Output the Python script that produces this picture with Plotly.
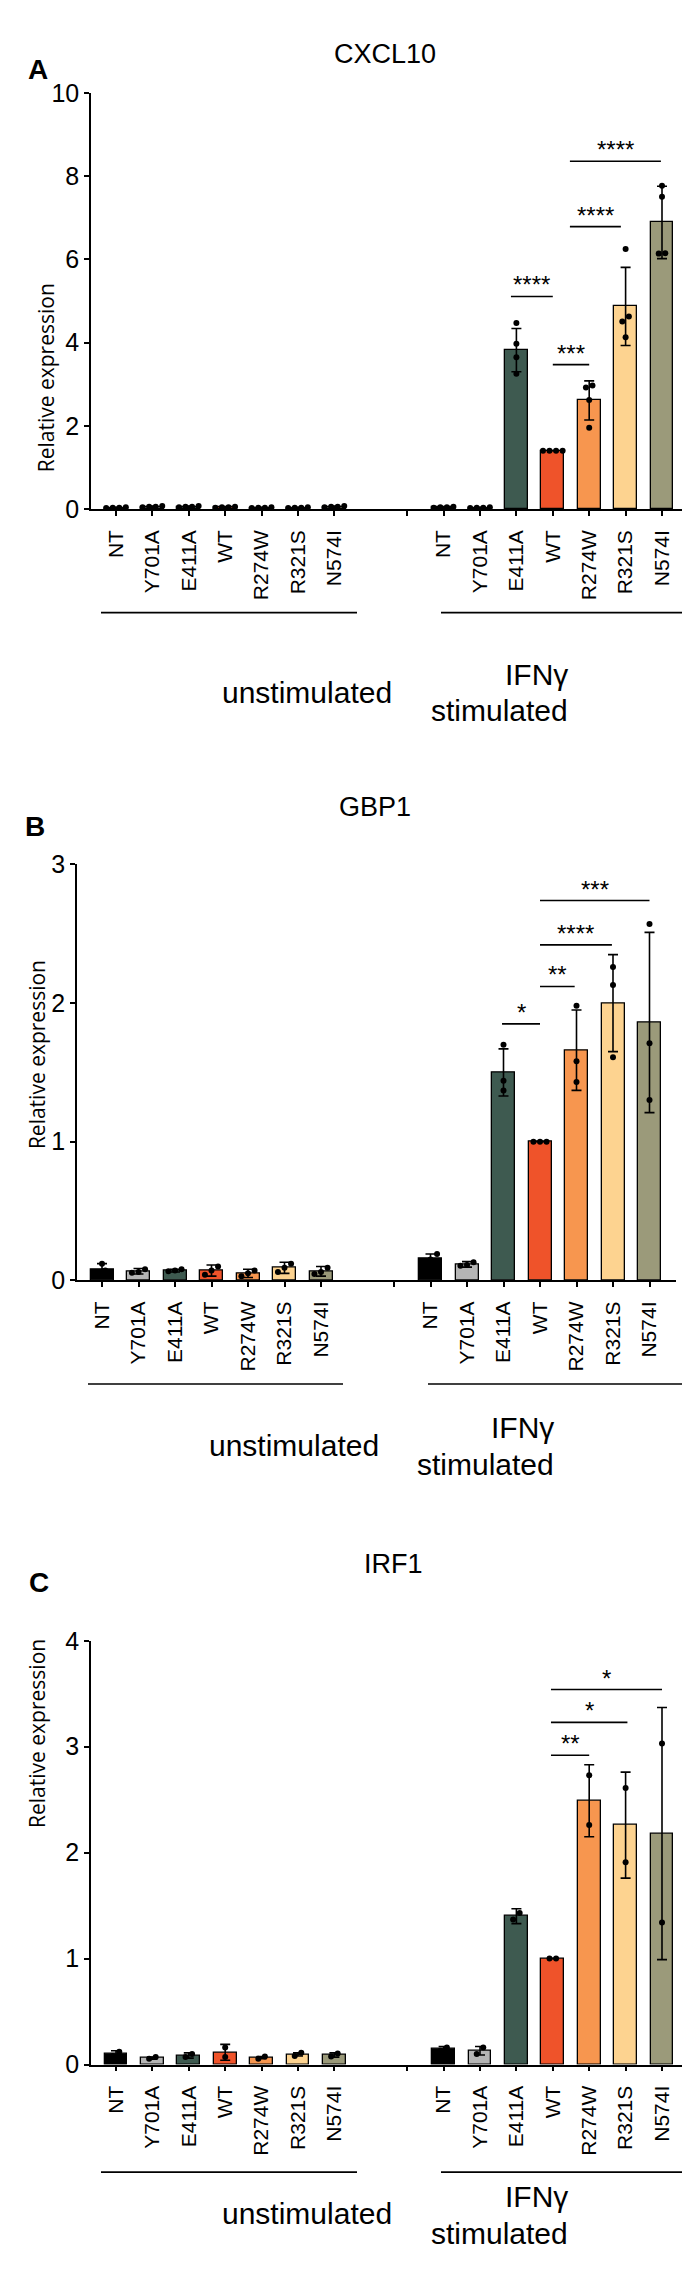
import plotly.graph_objects as go

# ---------------- data ----------------
categories = ["NT", "Y701A", "E411A", "WT", "R274W", "R321S", "N574I"]
bar_colors = ["#000000", "#b5b5b5", "#3e5a50", "#ef532a", "#f7964f", "#fdd390", "#9b9a7a"]
unstim_pos = [0, 1, 2, 3, 4, 5, 6]
stim_pos = [9, 10, 11, 12, 13, 14, 15]
sep_pos = 8

# Panel A - CXCL10
a_unstim_mean = [0.03, 0.05, 0.05, 0.04, 0.03, 0.03, 0.05]
a_unstim_err = [0.01, 0.02, 0.02, 0.01, 0.01, 0.01, 0.02]
a_unstim_pts = [[0.02, 0.03, 0.03, 0.04], [0.04, 0.05, 0.05, 0.07], [0.04, 0.05, 0.05, 0.07],
                [0.03, 0.04, 0.04, 0.05], [0.02, 0.03, 0.03, 0.04], [0.02, 0.03, 0.03, 0.04],
                [0.04, 0.05, 0.05, 0.07]]
a_stim_mean = [0.04, 0.03, 3.82, 1.40, 2.61, 4.87, 6.89]
a_stim_err = [0.01, 0.01, 0.52, 0.0, 0.47, 0.94, 0.87]
a_stim_pts = [[0.03, 0.04, 0.04, 0.05], [0.02, 0.03, 0.03, 0.04], [4.47, 3.97, 3.65, 3.25],
              [1.40, 1.40, 1.40, 1.40], [2.97, 2.92, 2.62, 1.95], [6.25, 4.63, 4.51, 4.13],
              [7.77, 7.51, 6.15, 6.14]]
a_sig = [(10.85, 12.0, 5.11, "****"), (12.0, 13.0, 3.47, "***"),
         (12.47, 13.87, 6.79, "****"), (12.47, 14.97, 8.36, "****")]

# Panel B - GBP1
b_unstim_mean = [0.08, 0.065, 0.07, 0.07, 0.05, 0.09, 0.065]
b_unstim_err = [0.04, 0.02, 0.01, 0.04, 0.03, 0.04, 0.035]
b_unstim_pts = [[0.12, 0.07, 0.05], [0.08, 0.06, 0.055], [0.08, 0.07, 0.065], [0.10, 0.07, 0.04],
                [0.07, 0.05, 0.03], [0.12, 0.09, 0.06], [0.09, 0.06, 0.045]]
b_stim_mean = [0.16, 0.115, 1.50, 1.00, 1.66, 2.00, 1.86]
b_stim_err = [0.03, 0.02, 0.17, 0.0, 0.29, 0.35, 0.65]
b_stim_pts = [[0.19, 0.15, 0.14], [0.13, 0.11, 0.105], [1.70, 1.44, 1.37], [1.0, 1.0, 1.0],
              [1.98, 1.58, 1.43], [2.26, 2.13, 1.61], [2.57, 1.71, 1.30]]
b_sig = [(10.96, 12.0, 1.85, "*"), (12.0, 12.95, 2.12, "**"),
         (12.0, 13.97, 2.42, "****"), (12.0, 15.0, 2.74, "***")]

# Panel C - IRF1
c_unstim_mean = [0.10, 0.06, 0.085, 0.115, 0.065, 0.095, 0.09]
c_unstim_err = [0.03, 0.01, 0.025, 0.075, 0.01, 0.015, 0.02]
c_unstim_pts = [[0.12, 0.08], [0.07, 0.055], [0.10, 0.07], [0.16, 0.07],
                [0.075, 0.055], [0.11, 0.08], [0.105, 0.075]]
c_stim_mean = [0.145, 0.13, 1.40, 1.00, 2.49, 2.26, 2.18]
c_stim_err = [0.025, 0.04, 0.07, 0.0, 0.34, 0.50, 1.19]
c_stim_pts = [[0.16, 0.13], [0.16, 0.10], [1.43, 1.37], [1.0, 1.0],
              [2.73, 2.26], [2.61, 1.91], [3.03, 1.34]]
c_sig = [(11.95, 13.0, 2.92, "**"), (11.95, 14.05, 3.23, "*"), (11.95, 15.0, 3.54, "*")]

y_ticks_a = [0, 2, 4, 6, 8, 10]
y_ticks_b = [0, 1, 2, 3]
y_ticks_c = [0, 1, 2, 3, 4]

# ---------------- layout geometry (pixels) ----------------
W, H = 690, 2272
FONT = "Liberation Sans"
panels = [
    dict(gene="CXCL10", letter="A", ymax=10, yticks=y_ticks_a,
         um=a_unstim_mean, ue=a_unstim_err, up=a_unstim_pts,
         sm=a_stim_mean, se=a_stim_err, sp=a_stim_pts, sig=a_sig,
         left=83, right=681, cat0=108, step=36.4, y0=493, ytop=72,
         title_xy=(377, 15), letter_xy=(18, 30), ytitle_xy=(22, 263),
         gline_y=598, gl_u=(93, 349), gl_s=(433, 690),
         lab_u=(212, 660), lab_ifn=(562, 642), lab_st=(562, 678)),
    dict(gene="GBP1", letter="B", ymax=3, yticks=y_ticks_b,
         um=b_unstim_mean, ue=b_unstim_err, up=b_unstim_pts,
         sm=b_stim_mean, se=b_stim_err, sp=b_stim_pts, sig=b_sig,
         left=69, right=668, cat0=94, step=36.5, y0=1274, ytop=853,
         title_xy=(367, 795), letter_xy=(15, 815), ytitle_xy=(13, 1046),
         gline_y=1379, gl_u=(80, 335), gl_s=(420, 677),
         lab_u=(199, 1441), lab_ifn=(548, 1423), lab_st=(548, 1460)),
    dict(gene="IRF1", letter="C", ymax=4, yticks=y_ticks_c,
         um=c_unstim_mean, ue=c_unstim_err, up=c_unstim_pts,
         sm=c_stim_mean, se=c_stim_err, sp=c_stim_pts, sig=c_sig,
         left=83, right=681, cat0=108, step=36.4, y0=2068, ytop=1639,
         title_xy=(385, 1578), letter_xy=(19, 1598), ytitle_xy=(13, 1831),
         gline_y=2177, gl_u=(93, 349), gl_s=(433, 690),
         lab_u=(212, 2238), lab_ifn=(562, 2220), lab_st=(562, 2258)),
]


def px(xp):
    return xp / W


def py(yp):
    return 1 - yp / H


def swarm_offsets(vals, px_per_unit, dot_px=6.5, step_units=0.18):
    """Spread overlapping dots horizontally (beeswarm-like)."""
    order = sorted(range(len(vals)), key=lambda i: vals[i])
    groups, cur = [], [order[0]]
    for i in order[1:]:
        if abs(vals[i] - vals[cur[-1]]) * px_per_unit < dot_px:
            cur.append(i)
        else:
            groups.append(cur)
            cur = [i]
    groups.append(cur)
    offs = [0.0] * len(vals)
    for g in groups:
        n = len(g)
        for k, i in enumerate(g):
            offs[i] = (k - (n - 1) / 2) * step_units
    return offs


fig = go.Figure()
annotations, shapes = [], []
tickvals = unstim_pos + [sep_pos] + stim_pos
ticktext = categories + [""] + categories

for k, p in enumerate(panels):
    n = "" if k == 0 else str(k + 1)
    xa, ya = "x" + n, "y" + n
    xr = [(p["left"] - p["cat0"]) / p["step"], (p["right"] - p["cat0"]) / p["step"]]
    ppu = (p["y0"] - p["ytop"]) / p["ymax"]

    xs = unstim_pos + stim_pos
    means = p["um"] + p["sm"]
    errs = p["ue"] + p["se"]
    cols = bar_colors + bar_colors
    err_arr = [e if e > 0 else None for e in errs]
    fig.add_trace(go.Bar(
        x=xs, y=means, width=0.63, xaxis=xa, yaxis=ya,
        marker=dict(color=cols, line=dict(color="black", width=1.3)),
        error_y=dict(type="data", array=err_arr, symmetric=True, color="black",
                     thickness=1.6, width=5),
        showlegend=False, hoverinfo="skip"))

    pts_x, pts_y = [], []
    for xpos, pts in zip(xs, p["up"] + p["sp"]):
        offs = swarm_offsets(pts, ppu)
        for v, o in zip(pts, offs):
            pts_x.append(xpos + o)
            pts_y.append(v)
    fig.add_trace(go.Scatter(
        x=pts_x, y=pts_y, mode="markers", xaxis=xa, yaxis=ya,
        marker=dict(color="black", size=6), showlegend=False, hoverinfo="skip"))

    # significance brackets
    for (x0, x1, yv, lab) in p["sig"]:
        fig.add_trace(go.Scatter(
            x=[x0, x1], y=[yv, yv], mode="lines", xaxis=xa, yaxis=ya,
            line=dict(color="black", width=1.6), showlegend=False, hoverinfo="skip"))
        annotations.append(dict(
            x=(x0 + x1) / 2, y=yv, xref=xa, yref=ya, text=lab, showarrow=False,
            yanchor="bottom", yshift=-4, font=dict(family=FONT, size=24, color="black")))

    axis_common = dict(showline=True, linecolor="black", linewidth=1.6, ticks="outside",
                       tickcolor="black", tickwidth=1.6, ticklen=5, showgrid=False,
                       zeroline=False)
    fig.layout["xaxis" + n] = dict(
        domain=[px(p["left"]), px(p["right"])], range=xr, anchor=ya,
        tickmode="array", tickvals=tickvals, ticktext=ticktext, tickangle=-90,
        ticklabelstandoff=6,
        tickfont=dict(family=FONT, size=21, color="black"), **axis_common)
    fig.layout["yaxis" + n] = dict(
        domain=[py(p["y0"]), py(p["ytop"])], range=[0, p["ymax"]], anchor=xa,
        tickmode="array", tickvals=p["yticks"],
        tickfont=dict(family=FONT, size=25, color="black"), **axis_common)

    # texts
    annotations.append(dict(x=px(p["title_xy"][0]), y=py(p["title_xy"][1]), xref="paper",
                            yref="paper", text=p["gene"], showarrow=False,
                            font=dict(family=FONT, size=27, color="black")))
    annotations.append(dict(x=px(p["letter_xy"][0]), y=py(p["letter_xy"][1]), xref="paper",
                            yref="paper", text="<b>" + p["letter"] + "</b>", showarrow=False,
                            font=dict(family=FONT, size=28, color="black")))
    annotations.append(dict(x=px(p["ytitle_xy"][0]), y=py(p["ytitle_xy"][1]), xref="paper",
                            yref="paper", text="Relative expression", showarrow=False,
                            textangle=-90, font=dict(family="Open Sans", size=21, color="black")))
    annotations.append(dict(x=px(p["lab_u"][0]), y=py(p["lab_u"][1]), xref="paper",
                            yref="paper", text="unstimulated", showarrow=False,
                            font=dict(family=FONT, size=30, color="black")))
    annotations.append(dict(x=px(p["lab_ifn"][0]), y=py(p["lab_ifn"][1]), xref="paper",
                            yref="paper", text="IFNγ", showarrow=False,
                            font=dict(family=FONT, size=30, color="black")))
    annotations.append(dict(x=px(p["lab_st"][0]), y=py(p["lab_st"][1]), xref="paper",
                            yref="paper", text="stimulated", showarrow=False,
                            font=dict(family=FONT, size=30, color="black")))
    for (a, b) in (p["gl_u"], p["gl_s"]):
        shapes.append(dict(type="line", xref="paper", yref="paper",
                           x0=px(a), x1=px(b), y0=py(p["gline_y"]), y1=py(p["gline_y"]),
                           line=dict(color="black", width=1.6)))

fig.update_layout(width=W, height=H, margin=dict(l=0, r=0, t=0, b=0),
                  paper_bgcolor="white", plot_bgcolor="white",
                  annotations=annotations, shapes=shapes, bargap=0)
fig.write_html("out.html")
